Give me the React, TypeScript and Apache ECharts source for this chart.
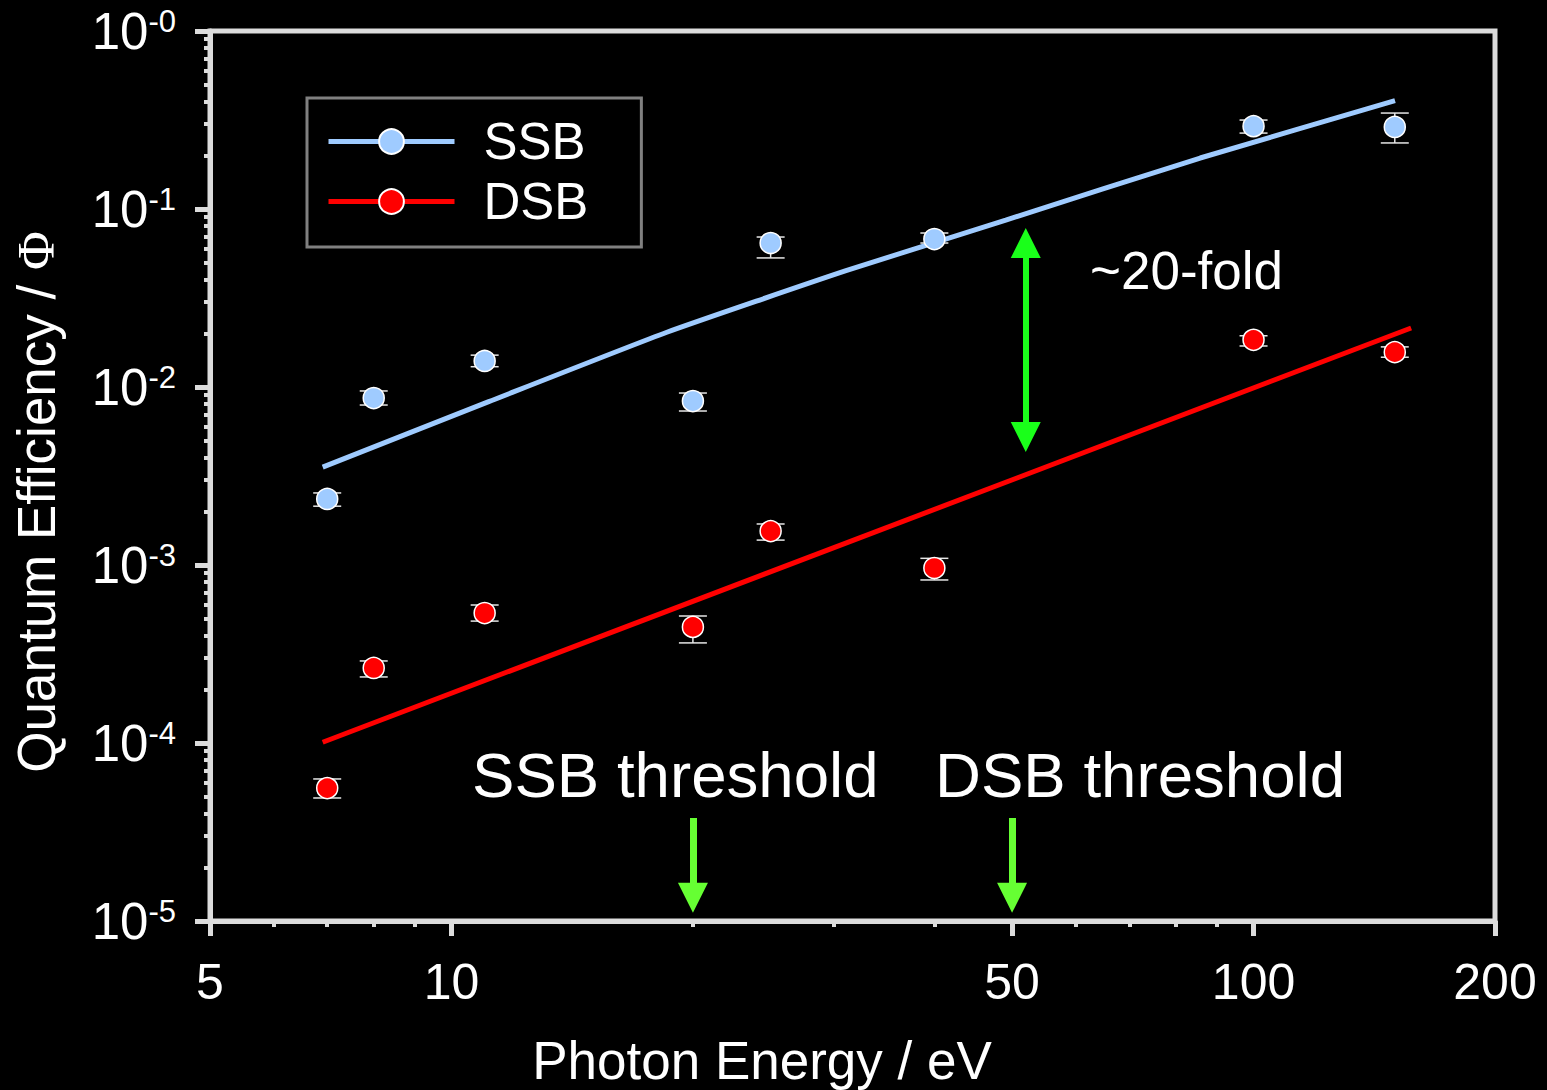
import React, { useEffect, useRef } from 'react';
import * as echarts from 'echarts';

const FONT = 'Liberation Sans, Arial, sans-serif';
const AXIS_COLOR = '#dcdcdc';
const SSB_COLOR = '#9fcbff';
const DSB_COLOR = '#ff0000';

// Tick positions
const xMajorTicks = [5, 10, 50, 100, 200];
const xMinorTicks = [6, 7, 8, 9, 20, 30, 40, 60, 70, 80, 90];
const yMinorTicks = [
  2e-5, 3e-5, 4e-5, 5e-5, 6e-5, 7e-5, 8e-5, 9e-5,
  2e-4, 3e-4, 4e-4, 5e-4, 6e-4, 7e-4, 8e-4, 9e-4,
  2e-3, 3e-3, 4e-3, 5e-3, 6e-3, 7e-3, 8e-3, 9e-3,
  2e-2, 3e-2, 4e-2, 5e-2, 6e-2, 7e-2, 8e-2, 9e-2,
  2e-1, 3e-1, 4e-1, 5e-1, 6e-1, 7e-1, 8e-1, 9e-1,
];

// Measured data (photon energy in eV)
const energies = [7, 8, 11, 20, 25, 40, 100, 150];
const ssbValues = [2.35e-3, 8.67e-3, 1.4e-2, 8.34e-3, 6.44e-2, 6.78e-2, 0.292, 0.289];
const ssbLower = [2.14e-3, 7.92e-3, 1.3e-2, 7.33e-3, 5.31e-2, 6.44e-2, 0.267, 0.235];
const ssbUpper = [2.54e-3, 9.5e-3, 1.51e-2, 9.25e-3, 6.96e-2, 7.33e-2, 0.316, 0.346];
const dsbValues = [5.58e-5, 2.64e-4, 5.37e-4, 4.49e-4, 1.55e-3, 9.62e-4, 1.84e-2, 1.57e-2];
const dsbLower = [4.91e-5, 2.35e-4, 4.84e-4, 3.65e-4, 1.38e-3, 8.24e-4, 1.7e-2, 1.47e-2];
const dsbUpper = [6.28e-5, 2.89e-4, 5.96e-4, 5.17e-4, 1.7e-3, 1.09e-3, 1.94e-2, 1.68e-2];

// Fit curves
const ssbFitX = [6.91, 11.13, 18.56, 31.04, 49.1, 85.8, 150.1];
const ssbFitY = [3.55e-3, 8.27e-3, 2.03e-2, 4.5e-2, 8.67e-2, 0.1934, 0.406];
const dsbFitX = [6.91, 157.2];
const dsbFitY = [1.01e-4, 2.146e-2];

// Annotation arrows (data coordinates)
const foldArrowX = 52;
const foldArrowY = [0.0644, 0.00524];
const thresholdX = [20, 50];
const thresholdArrowY = [3.79e-5, 1.35e-5];

function zip2(a: number[], b: number[]) {
  return a.map((v, i) => [v, b[i]]);
}

function errorSeries(name: string, lo: number[], hi: number[]) {
  return {
    name,
    type: 'custom',
    xAxisIndex: 0,
    yAxisIndex: 0,
    z: 3,
    silent: true,
    data: energies.map((x, i) => [x, lo[i], hi[i]]),
    encode: { x: 0, y: [1, 2] },
    renderItem: (params: any, api: any) => {
      const x = api.value(0);
      const p1 = api.coord([x, api.value(1)]);
      const p2 = api.coord([x, api.value(2)]);
      const hw = 14;
      const style = { stroke: '#e6e6e6', lineWidth: 1.5 };
      return {
        type: 'group',
        children: [
          { type: 'line', shape: { x1: p1[0], y1: p1[1], x2: p2[0], y2: p2[1] }, style },
          { type: 'line', shape: { x1: p1[0] - hw, y1: p1[1], x2: p1[0] + hw, y2: p1[1] }, style },
          { type: 'line', shape: { x1: p2[0] - hw, y1: p2[1], x2: p2[0] + hw, y2: p2[1] }, style },
        ],
      };
    },
  };
}

export default function App() {
  const ref = useRef<HTMLDivElement>(null);

  useEffect(() => {
    if (!ref.current) return;
    const chart = echarts.init(ref.current, null, { renderer: 'svg' });

    const option: any = {
      animation: false,
      backgroundColor: '#000000',
      grid: {
        left: 210,
        right: 52,
        top: 31,
        bottom: 169,
        show: true,
        borderColor: AXIS_COLOR,
        borderWidth: 5,
        backgroundColor: 'transparent',
      },
      legend: {
        data: ['SSB', 'DSB'],
        orient: 'vertical',
        left: 307,
        top: 98,
        itemWidth: 126,
        itemHeight: 31,
        itemGap: 9,
        padding: [18, 53, 20, 19],
        borderColor: '#808080',
        borderWidth: 3,
        lineStyle: { width: 5 },
        textStyle: {
          color: '#ffffff',
          fontSize: 51,
          fontFamily: FONT,
          lineHeight: 31,
          padding: [0, 0, 0, 24],
        },
      },
      xAxis: [
        {
          type: 'log',
          logBase: 10,
          min: 5,
          max: 200,
          position: 'bottom',
          axisLine: { show: true, lineStyle: { color: AXIS_COLOR, width: 5 } },
          axisTick: {
            show: true,
            length: 15,
            lineStyle: { color: AXIS_COLOR, width: 5 },
            customValues: xMajorTicks,
          },
          axisLabel: {
            customValues: xMajorTicks,
            color: '#ffffff',
            fontSize: 50,
            fontFamily: FONT,
            margin: 36,
          },
          splitLine: { show: false },
          minorTick: { show: false },
        },
        {
          type: 'log',
          logBase: 10,
          min: 5,
          max: 200,
          position: 'bottom',
          axisLine: { show: false },
          axisTick: {
            show: true,
            length: 6,
            lineStyle: { color: AXIS_COLOR, width: 4 },
            customValues: xMinorTicks,
          },
          axisLabel: { show: false },
          splitLine: { show: false },
        },
      ],
      yAxis: [
        {
          type: 'log',
          logBase: 10,
          min: 1e-5,
          max: 1,
          position: 'left',
          axisLine: { show: true, lineStyle: { color: AXIS_COLOR, width: 5 } },
          axisTick: { show: true, length: 15, lineStyle: { color: AXIS_COLOR, width: 5 } },
          axisLabel: {
            color: '#ffffff',
            margin: 34,
            formatter: (v: number) => {
              const e = Math.round(Math.log10(v));
              return `{a|10}{b|-${Math.abs(e)}}`;
            },
            rich: {
              a: { fontSize: 51, color: '#ffffff', fontFamily: FONT },
              b: { fontSize: 31, color: '#ffffff', fontFamily: FONT, verticalAlign: 'top' },
            },
          },
          splitLine: { show: false },
          minorTick: { show: false },
        },
        {
          type: 'log',
          logBase: 10,
          min: 1e-5,
          max: 1,
          position: 'left',
          axisLine: { show: false },
          axisTick: {
            show: true,
            length: 6,
            lineStyle: { color: AXIS_COLOR, width: 4 },
            customValues: yMinorTicks,
          },
          axisLabel: { show: false },
          splitLine: { show: false },
        },
      ],
      series: [
        {
          name: 'SSB',
          type: 'line',
          xAxisIndex: 0,
          yAxisIndex: 0,
          data: zip2(ssbFitX, ssbFitY),
          smooth: 0.15,
          symbol: 'circle',
          symbolSize: 21,
          showSymbol: false,
          z: 2,
          lineStyle: { color: SSB_COLOR, width: 5 },
          itemStyle: { color: SSB_COLOR, borderColor: '#ffffff', borderWidth: 1.5 },
          markLine: {
            silent: true,
            animation: false,
            symbol: ['triangle', 'triangle'],
            symbolSize: 30,
            label: { show: false },
            lineStyle: { color: '#1aff1a', width: 6, type: 'solid' },
            data: [[{ coord: [foldArrowX, foldArrowY[0]] }, { coord: [foldArrowX, foldArrowY[1]] }]],
          },
        },
        {
          name: 'DSB',
          type: 'line',
          xAxisIndex: 0,
          yAxisIndex: 0,
          data: zip2(dsbFitX, dsbFitY),
          symbol: 'circle',
          symbolSize: 21,
          showSymbol: false,
          z: 2,
          lineStyle: { color: DSB_COLOR, width: 5 },
          itemStyle: { color: DSB_COLOR, borderColor: '#ffffff', borderWidth: 1.5 },
          markLine: {
            silent: true,
            animation: false,
            symbol: ['none', 'triangle'],
            symbolSize: 30,
            label: { show: false },
            lineStyle: { color: '#66ff33', width: 7, type: 'solid' },
            data: thresholdX.map((x) => [
              { coord: [x, thresholdArrowY[0]] },
              { coord: [x, thresholdArrowY[1]] },
            ]),
          },
        },
        errorSeries('SSB error', ssbLower, ssbUpper),
        errorSeries('DSB error', dsbLower, dsbUpper),
        {
          name: 'SSB data',
          type: 'scatter',
          xAxisIndex: 0,
          yAxisIndex: 0,
          z: 4,
          data: zip2(energies, ssbValues),
          symbol: 'circle',
          symbolSize: 21,
          itemStyle: { color: SSB_COLOR, borderColor: '#ffffff', borderWidth: 1.5, opacity: 1 },
        },
        {
          name: 'DSB data',
          type: 'scatter',
          xAxisIndex: 0,
          yAxisIndex: 0,
          z: 4,
          data: zip2(energies, dsbValues),
          symbol: 'circle',
          symbolSize: 21,
          itemStyle: { color: DSB_COLOR, borderColor: '#ffffff', borderWidth: 1.5, opacity: 1 },
        },
      ],
      graphic: [
        {
          type: 'text',
          x: 762,
          y: 1060,
          style: {
            text: 'Photon Energy / eV',
            fill: '#ffffff',
            fontSize: 53,
            fontFamily: FONT,
            textAlign: 'center',
            textVerticalAlign: 'middle',
          },
        },
        {
          type: 'text',
          x: 36,
          y: 502,
          rotation: Math.PI / 2,
          style: {
            text: '{a|Quantum Efficiency / }{b|Φ}',
            rich: {
              a: { fontSize: 53, fontFamily: FONT, fill: '#ffffff' },
              b: { fontSize: 53, fontFamily: 'Liberation Serif, serif', fill: '#ffffff' },
            },
            fill: '#ffffff',
            textAlign: 'center',
            textVerticalAlign: 'middle',
          },
        },
        {
          type: 'text',
          x: 1090,
          y: 270,
          style: {
            text: '~20-fold',
            fill: '#ffffff',
            fontSize: 53,
            fontFamily: FONT,
            textAlign: 'left',
            textVerticalAlign: 'middle',
          },
        },
        {
          type: 'text',
          x: 472,
          y: 774,
          style: {
            text: 'SSB threshold',
            fill: '#ffffff',
            fontSize: 63.6,
            fontFamily: FONT,
            textAlign: 'left',
            textVerticalAlign: 'middle',
          },
        },
        {
          type: 'text',
          x: 935,
          y: 774,
          style: {
            text: 'DSB threshold',
            fill: '#ffffff',
            fontSize: 63.6,
            fontFamily: FONT,
            textAlign: 'left',
            textVerticalAlign: 'middle',
          },
        },
      ],
    };

    chart.setOption(option);
    return () => {
      chart.dispose();
    };
  }, []);

  return (
    <div
      ref={ref}
      style={{ position: 'fixed', left: 0, top: 0, width: 1547, height: 1090, background: '#000' }}
    />
  );
}
